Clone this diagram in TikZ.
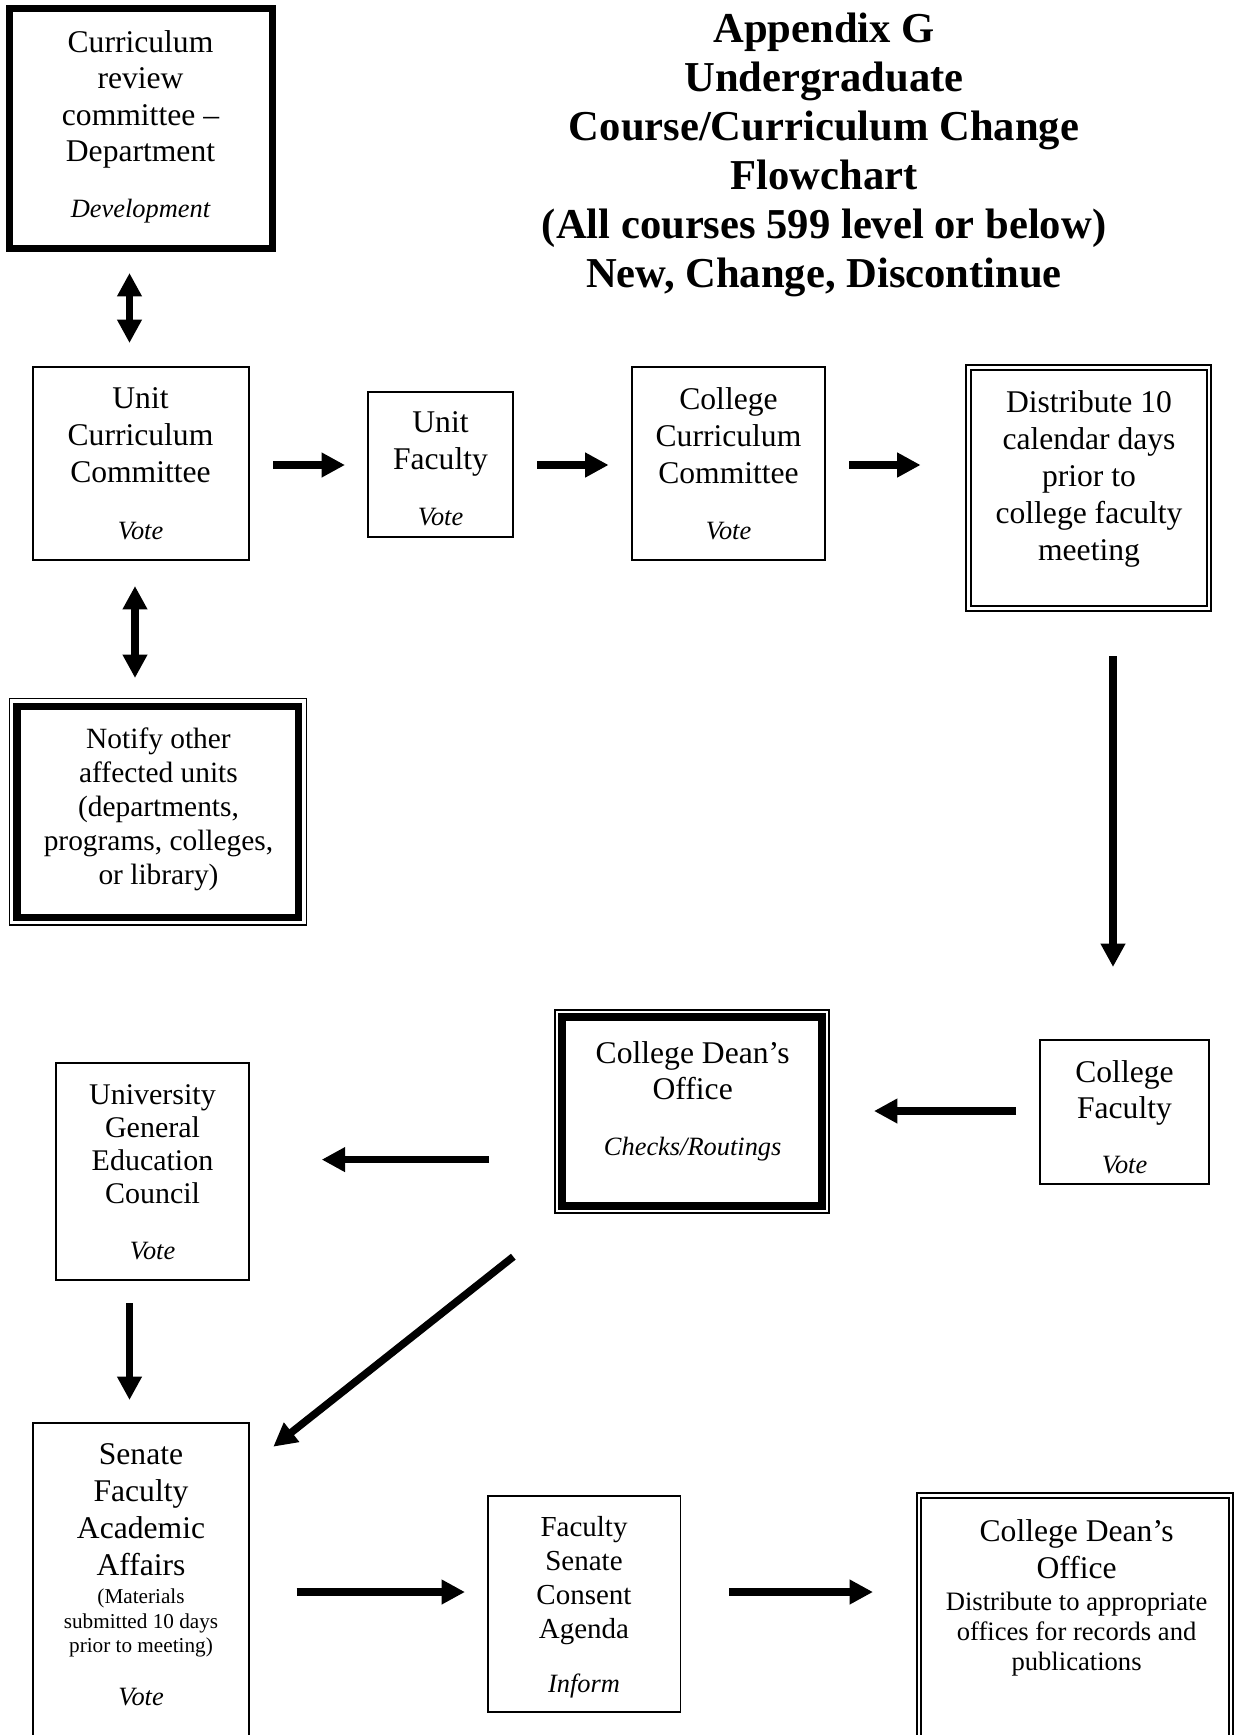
\documentclass[tikz,border=0pt]{standalone}
\usepackage{fontspec}
\setmainfont{Liberation Serif}
\usetikzlibrary{arrows.meta}
\tikzset{
  thinbox/.style={draw, line width=0.8pt, inner sep=0pt, outer sep=0pt},
  thickbox/.style={draw, line width=3.25pt, inner sep=0pt, outer sep=0pt},
  dblbox/.style={draw, line width=1pt, double=white, double distance=1.35pt, inner sep=0pt, outer sep=0pt},
  heavybox/.style={draw, line width=3.65pt, inner sep=0pt, outer sep=0pt},
  outline/.style={draw, line width=0.8pt},
  txt/.style={align=center, inner sep=0pt, anchor=north, yshift=-1pt},
  lbl/.style={inner sep=0pt, anchor=base, yshift=-0.5pt, font=\fontsize{13.2pt}{15pt}\selectfont\itshape},
  arr/.style={line width=3.75pt, -{Triangle[length=11.7pt,width=11.7pt]}},
  darr/.style={line width=3.75pt, {Triangle[length=11.7pt,width=11.7pt]}-{Triangle[length=11.7pt,width=11.7pt]}},
}
\begin{document}
\begin{tikzpicture}[x=0.5pt,y=-0.5pt]
\useasboundingbox (0,0) rectangle (1236,1735);
\clip (0,0) rectangle (1236,1735);
\fill[white] (0,0) rectangle (1236,1735);

% title
\node[txt, font=\fontsize{21.3pt}{24.5pt}\selectfont\bfseries] (title) at (824,10.8)
  {Appendix G\\Undergraduate\\Course/Curriculum Change\\Flowchart\\(All courses 599 level or below)\\New, Change, Discontinue};

% curriculum review committee
\node[thickbox, minimum width=131.5pt, minimum height=120pt] (crc) at (141,128.5) {};
\node[txt, font=\fontsize{15.8pt}{18.25pt}\selectfont] (crct) at (140.5,28) {Curriculum\\review\\committee –\\Department};
\node[lbl] (crcl) at (140.5,216.7) {Development};

% unit curriculum committee
\node[thinbox, minimum width=108pt, minimum height=96.5pt] (ucc) at (141,463.5) {};
\node[txt, font=\fontsize{15.8pt}{18.5pt}\selectfont] (ucct) at (140.5,385) {Unit\\Curriculum\\Committee};
\node[lbl] (uccl) at (140.5,538.7) {Vote};

% unit faculty
\node[thinbox, minimum width=72.5pt, minimum height=72.5pt] (uf) at (440.5,464.5) {};
\node[txt, font=\fontsize{15.8pt}{18.2pt}\selectfont] (uft) at (440.5,409.6) {Unit\\Faculty};
\node[lbl] (ufl) at (440.5,524.3) {Vote};

% college curriculum committee
\node[thinbox, minimum width=96.5pt, minimum height=96.5pt] (ccc) at (728.5,463.5) {};
\node[txt, font=\fontsize{15.8pt}{18.5pt}\selectfont] (ccct) at (728.5,385) {College\\Curriculum\\Committee};
\node[lbl] (cccl) at (728.5,538.7) {Vote};

% distribute
\node[dblbox, minimum width=120.35pt, minimum height=120.6pt] (dist) at (1088.65,488.1) {};
\node[txt, font=\fontsize{15.8pt}{18.4pt}\selectfont] (distt) at (1089,388.5) {Distribute 10\\calendar days\\prior to\\college faculty\\meeting};

% notify
\node[heavybox, minimum width=140.9pt, minimum height=105.5pt] (notify) at (157.9,811.8) {};
\draw[outline] ([xshift=-3.85pt,yshift=-3.85pt]notify.south west) rectangle ([xshift=3.85pt,yshift=3.85pt]notify.north east);
\node[txt, font=\fontsize{14.7pt}{17pt}\selectfont] (notifyt) at (158.5,725) {Notify other\\affected units\\(departments,\\programs, colleges,\\or library)};

% college dean's office (checks)
\node[heavybox, minimum width=130pt, minimum height=94.5pt] (dean) at (692,1111.5) {};
\draw[outline] ([xshift=-3.5pt,yshift=-3.5pt]dean.south west) rectangle ([xshift=3.5pt,yshift=3.5pt]dean.north east);
\node[txt, font=\fontsize{15.8pt}{18.3pt}\selectfont] (deant) at (692.7,1039) {College Dean’s\\Office};
\node[lbl] (deanl) at (692.7,1154.7) {Checks/Routings};

% college faculty
\node[thinbox, minimum width=84.5pt, minimum height=72pt] (cf) at (1124.5,1112) {};
\node[txt, font=\fontsize{15.8pt}{18.25pt}\selectfont] (cft) at (1124.5,1058) {College\\Faculty};
\node[lbl] (cfl) at (1124.5,1172.7) {Vote};

% university general education council
\node[thinbox, minimum width=96.5pt, minimum height=108.5pt] (ugec) at (152.5,1171.5) {};
\node[txt, font=\fontsize{15pt}{16.6pt}\selectfont] (ugect) at (152.5,1082) {University\\General\\Education\\Council};
\node[lbl] (ugecl) at (152.5,1258.7) {Vote};

% senate faculty academic affairs
\node[thinbox, minimum width=108pt, minimum height=168.5pt] (senate) at (141,1591.5) {};
\node[txt, font=\fontsize{15.8pt}{18.6pt}\selectfont] (senatet) at (141,1441) {Senate\\Faculty\\Academic\\Affairs};
\node[txt, font=\fontsize{10.6pt}{12.15pt}\selectfont] (senates) at (141,1586.7) {(Materials\\submitted 10 days\\prior to meeting)};
\node[lbl] (senatel) at (141,1704.7) {Vote};

% faculty senate consent agenda
\node[thinbox, minimum width=96.25pt, minimum height=108pt] (fsca) at (584.25,1604) {};
\node[txt, font=\fontsize{14.5pt}{16.9pt}\selectfont] (fscat) at (584,1514.3) {Faculty\\Senate\\Consent\\Agenda};
\node[lbl] (fscal) at (584,1691.7) {Inform};

% college dean's office (distribute)
\node[dblbox, minimum width=156pt, minimum height=132.25pt] (dean2) at (1075,1627.75) {};
\node[txt, font=\fontsize{15.8pt}{18.5pt}\selectfont] (dean2t) at (1076.6,1517) {College Dean’s\\Office};
\node[txt, font=\fontsize{13.3pt}{15pt}\selectfont] (dean2s) at (1076.6,1590) {Distribute to appropriate\\offices for records and\\publications};

% connector end points
\coordinate (a1) at (129.5,273);   \coordinate (a2) at (129.5,343);
\coordinate (b1) at (135,586);     \coordinate (b2) at (135,678);
\coordinate (c1) at (273,465);     \coordinate (c2) at (345,465);
\coordinate (d1) at (537,465);     \coordinate (d2) at (608.6,465);
\coordinate (e1) at (849,465);     \coordinate (e2) at (920.6,465);
\coordinate (f1) at (1113,656);    \coordinate (f2) at (1113,967);
\coordinate (g1) at (1016,1111);   \coordinate (g2) at (874,1111);
\coordinate (h1) at (489,1159.6);  \coordinate (h2) at (321.7,1159.6);
\coordinate (i1) at (513.3,1256.7);\coordinate (i2) at (273.3,1446.7);
\coordinate (j1) at (129.5,1303);  \coordinate (j2) at (129.5,1400);
\coordinate (k1) at (296.5,1592);  \coordinate (k2) at (465,1592);
\coordinate (l1) at (729,1592);    \coordinate (l2) at (873,1592);

\draw[darr] (a1) -- (a2);
\draw[darr] (b1) -- (b2);
\draw[arr] (c1) -- (c2);
\draw[arr] (d1) -- (d2);
\draw[arr] (e1) -- (e2);
\draw[arr] (f1) -- (f2);
\draw[arr] (g1) -- (g2);
\draw[arr] (h1) -- (h2);
\draw[arr] (i1) -- (i2);
\draw[arr] (j1) -- (j2);
\draw[arr] (k1) -- (k2);
\draw[arr] (l1) -- (l2);
\end{tikzpicture}
\end{document}
